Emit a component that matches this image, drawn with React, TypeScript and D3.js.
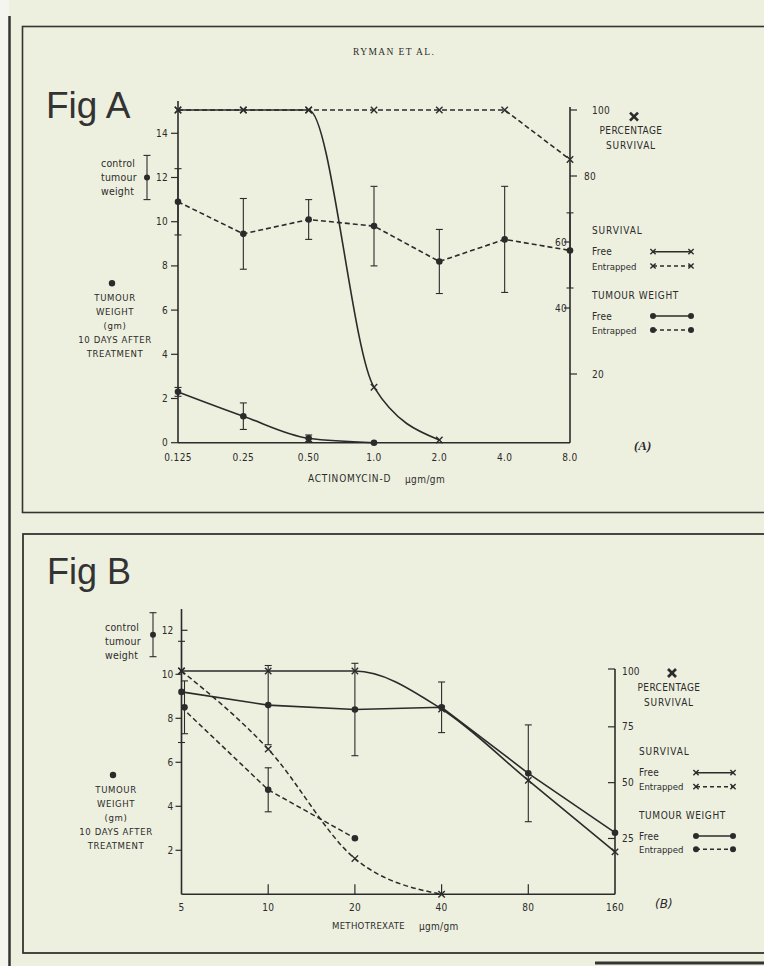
import React from "react";
import * as d3 from "d3";

// ---- Fig A : actinomycin-D (ugm/gm) ----
const doseA = [0.125, 0.25, 0.5, 1, 2, 4, 8];
const doseALabels = ["0.125", "0.25", "0.50", "1.0", "2.0", "4.0", "8.0"];
const survFreeA = [100, 100, 100, 16, 0]; // 0.125 .. 2.0
const survEntrappedA = [100, 100, 100, 100, 100, 100, 85];
const weightFreeA = [2.3, 1.2, 0.2, 0]; // 0.125 .. 1.0
const weightFreeErrA = [0.2, 0.6, 0.15, 0];
const weightEntrappedA = [10.9, 9.45, 10.1, 9.8, 8.2, 9.2, 8.7];
const weightEntrappedErrA = [1.5, 1.6, 0.9, 1.8, 1.45, 2.4, 1.7];
const controlA = { mean: 12, err: 1 };
const weightTicksA = [0, 2, 4, 6, 8, 10, 12, 14];
const survTicksA = [20, 40, 60, 80, 100];

// ---- Fig B : methotrexate (ugm/gm) ----
const doseB = [5, 10, 20, 40, 80, 160];
const doseBLabels = ["5", "10", "20", "40", "80", "160"];
const survFreeB = [100, 100, 100, 83, 51, 19];
const survEntrappedB = [100, 65, 16, 0]; // 5 .. 40
const weightFreeB = [9.2, 8.6, 8.4, 8.5, 5.5, 2.8];
const weightFreeErrB = [2.3, 1.8, 2.1, 1.15, 2.2, 0];
const weightEntrappedB = [8.5, 4.75, 2.55]; // 5 .. 20
const weightEntrappedErrB = [1.2, 1.0, 0];
const controlB = { mean: 11.8, err: 1 };
const weightTicksB = [2, 4, 6, 8, 10, 12];
const survTicksB = [25, 50, 75, 100];

const INK = "#2b2b2b";
const PAPER = "#eef0df";
const FONT = "'DejaVu Sans Condensed', 'DejaVu Sans', sans-serif";
const DASH = "5,3";

type Scale = (v: number) => number;

const path = (xs: number[], ys: number[], xS: Scale, yS: Scale, curve: any = d3.curveLinear) =>
  d3
    .line<number>()
    .x((_, i) => xS(xs[i]))
    .y((d) => yS(d))
    .curve(curve)(ys) ?? "";

const Cross = ({ x, y, r = 3.2, w = 1.4 }: any) => (
  <g stroke={INK} strokeWidth={w}>
    <line x1={x - r} y1={y - r} x2={x + r} y2={y + r} />
    <line x1={x - r} y1={y + r} x2={x + r} y2={y - r} />
  </g>
);

const Dot = ({ x, y, r = 3.3 }: any) => <circle cx={x} cy={y} r={r} fill={INK} />;

const ErrBar = ({ x, y0, y1, cap = 3.5 }: any) => (
  <g stroke={INK} strokeWidth={1.1}>
    <line x1={x} x2={x} y1={y0} y2={y1} />
    <line x1={x - cap} x2={x + cap} y1={y0} y2={y0} />
    <line x1={x - cap} x2={x + cap} y1={y1} y2={y1} />
  </g>
);

const T = ({ x, y, children, anchor = "start", size = 10, ls = 0.6, ...rest }: any) => (
  <text
    x={x}
    y={y}
    fontSize={size}
    letterSpacing={ls}
    textAnchor={anchor}
    dominantBaseline="central"
    fill={INK}
    {...rest}
  >
    {children}
  </text>
);

// legend block on the right of each panel
const Legend = ({ tx, rows, lx0, lx1, pct }: any) => {
  const sample = (y: number, dashed: boolean, dot: boolean) => (
    <g>
      <line
        x1={lx0}
        x2={lx1}
        y1={y}
        y2={y}
        stroke={INK}
        strokeWidth={1.4}
        strokeDasharray={dashed ? "4,3" : undefined}
      />
      {dot ? (
        <>
          <Dot x={lx0} y={y} r={3} />
          <Dot x={lx1} y={y} r={3} />
        </>
      ) : (
        <>
          <Cross x={lx0} y={y} r={2.6} />
          <Cross x={lx1} y={y} r={2.6} />
        </>
      )}
    </g>
  );
  return (
    <g>
      <Cross x={pct.x + 3} y={pct.y0} r={4} w={2.6} />
      <T x={pct.x} y={pct.y1} anchor="middle" ls={0.4}>PERCENTAGE</T>
      <T x={pct.x} y={pct.y2} anchor="middle" ls={0.8}>SURVIVAL</T>
      <T x={tx} y={rows[0]} ls={0.9}>SURVIVAL</T>
      <T x={tx} y={rows[1]} ls={0.3}>Free</T>
      {sample(rows[1], false, false)}
      <T x={tx} y={rows[2]} size={9.5} ls={0}>Entrapped</T>
      {sample(rows[2], true, false)}
      <T x={tx} y={rows[3]} ls={0.6}>TUMOUR WEIGHT</T>
      <T x={tx} y={rows[4]} ls={0.3}>Free</T>
      {sample(rows[4], false, true)}
      <T x={tx} y={rows[5]} size={9.5} ls={0}>Entrapped</T>
      {sample(rows[5], true, true)}
    </g>
  );
};

const SideNotes = ({ cx, cy, ctrl, yS, ex, dot }: any) => (
  <g>
    <T x={cx} y={cy} size={10.5} ls={0.2}>control</T>
    <T x={cx} y={cy + 14} size={10.5} ls={0.2}>tumour</T>
    <T x={cx} y={cy + 28} size={10.5} ls={0.2}>weight</T>
    <ErrBar x={ex} y0={yS(ctrl.mean + ctrl.err)} y1={yS(ctrl.mean - ctrl.err)} />
    <Dot x={ex} y={yS(ctrl.mean)} r={3} />
    <Dot x={dot.x - 3} y={dot.y} r={3.2} />
    <T x={dot.x} y={dot.y + 14} anchor="middle" size={9.5}>TUMOUR</T>
    <T x={dot.x} y={dot.y + 28.5} anchor="middle" size={9.5}>WEIGHT</T>
    <T x={dot.x} y={dot.y + 42.5} anchor="middle" size={9.5}>(gm)</T>
    <T x={dot.x} y={dot.y + 56.5} anchor="middle" size={9.5}>10 DAYS AFTER</T>
    <T x={dot.x} y={dot.y + 70.5} anchor="middle" size={9.5}>TREATMENT</T>
  </g>
);

function FigA() {
  const x = d3.scaleLog().base(2).domain([0.125, 8]).range([178, 570]);
  const yW = d3.scaleLinear().domain([0, 14]).range([442.7, 133.3]);
  const yS = d3.scaleLinear().domain([0, 100]).range([440, 110]);
  const base = yW(0);
  const x0 = x(0.125);
  const x1 = x(8);
  const dFree = doseA.slice(0, survFreeA.length);
  const dWFree = doseA.slice(0, weightFreeA.length);

  return (
    <g>
      <text x={46} y={118} fontFamily="'Liberation Sans', Arial, sans-serif" fontSize={37} fill="#333">
        Fig A
      </text>
      <text
        x={353}
        y={55}
        fontFamily="'Liberation Serif', serif"
        fontSize={9.5}
        letterSpacing={1.4}
        fill={INK}
      >
        RYMAN ET AL.
      </text>

      {/* axes */}
      <g stroke={INK} strokeWidth={1.6}>
        <line x1={x0} x2={x0} y1={base} y2={101} />
        <line x1={x0} x2={x1} y1={base} y2={base} />
        <line x1={x1} x2={x1} y1={base} y2={yS(100) - 3} />
      </g>
      {weightTicksA.map((t) => (
        <g key={t}>
          <line x1={x0 - 7} x2={x0} y1={yW(t)} y2={yW(t)} stroke={INK} strokeWidth={1.2} />
          <T x={x0 - 10} y={yW(t)} anchor="end" ls={0.3}>{t}</T>
        </g>
      ))}
      {survTicksA.map((t) => {
        const left = t === 40 || t === 60;
        return (
          <g key={t}>
            <line
              x1={left ? x1 - 6 : x1}
              x2={left ? x1 : x1 + 7}
              y1={yS(t)}
              y2={yS(t)}
              stroke={INK}
              strokeWidth={1.2}
            />
            <T x={left ? x1 - 3 : t === 80 ? x1 + 14 : x1 + 22} y={yS(t)} anchor={left ? "end" : "start"} ls={0.3}>
              {t}
            </T>
          </g>
        );
      })}
      {doseA.map((d, i) => (
        <T key={d} x={x(d)} y={457} anchor="middle" ls={0.4}>
          {doseALabels[i]}
        </T>
      ))}
      <T x={308} y={478} ls={0.8}>ACTINOMYCIN-D</T>
      <T x={405} y={479} ls={0.4}>μgm/gm</T>
      <text x={634} y={450} fontFamily="'Liberation Serif', serif" fontStyle="italic" fontWeight="bold" fontSize={13} fill={INK}>
        (A)
      </text>

      {/* survival */}
      <path d={path(dFree, survFreeA, x, yS, d3.curveMonotoneX)} fill="none" stroke={INK} strokeWidth={1.6} />
      <path d={path(doseA, survEntrappedA, x, yS)} fill="none" stroke={INK} strokeWidth={1.6} strokeDasharray={DASH} />
      {dFree.map((d, i) => (
        <Cross key={"sf" + d} x={x(d)} y={yS(survFreeA[i])} />
      ))}
      {doseA.map((d, i) => (
        <Cross key={"se" + d} x={x(d)} y={yS(survEntrappedA[i])} />
      ))}

      {/* tumour weight */}
      <path d={path(dWFree, weightFreeA, x, yW, d3.curveMonotoneX)} fill="none" stroke={INK} strokeWidth={1.6} />
      <path d={path(doseA, weightEntrappedA, x, yW)} fill="none" stroke={INK} strokeWidth={1.6} strokeDasharray={DASH} />
      {dWFree.map((d, i) => (
        <g key={"wf" + d}>
          {weightFreeErrA[i] > 0 && (
            <ErrBar x={x(d)} y0={yW(weightFreeA[i] + weightFreeErrA[i])} y1={yW(weightFreeA[i] - weightFreeErrA[i])} />
          )}
          <Dot x={x(d)} y={yW(weightFreeA[i])} />
        </g>
      ))}
      {doseA.map((d, i) => (
        <g key={"we" + d}>
          <ErrBar
            x={x(d)}
            y0={yW(weightEntrappedA[i] + weightEntrappedErrA[i])}
            y1={yW(weightEntrappedA[i] - weightEntrappedErrA[i])}
          />
          <Dot x={x(d)} y={yW(weightEntrappedA[i])} />
        </g>
      ))}

      <SideNotes cx={101} cy={162.7} ctrl={controlA} yS={yW} ex={147} dot={{ x: 115, y: 283.3 }} />
      <Legend
        tx={592}
        rows={[230.7, 251.7, 266, 295, 316, 330]}
        lx0={653}
        lx1={691}
        pct={{ x: 631, y0: 116.7, y1: 130, y2: 145 }}
      />
    </g>
  );
}

function FigB() {
  const x = d3.scaleLog().base(2).domain([5, 160]).range([181.5, 615]);
  const yW = d3.scaleLinear().domain([0, 12]).range([894.3, 630.3]);
  const yS = d3.scaleLinear().domain([0, 100]).range([894.3, 671]);
  const base = yW(0);
  const x0 = x(5);
  const x1 = x(160);
  const dSE = doseB.slice(0, survEntrappedB.length);
  const dWE = doseB.slice(0, weightEntrappedB.length);

  return (
    <g>
      <text x={47} y={584} fontFamily="'Liberation Sans', Arial, sans-serif" fontSize={36} fill="#333">
        Fig B
      </text>

      <g stroke={INK} strokeWidth={1.6}>
        <line x1={x0} x2={x0} y1={base} y2={609} />
        <line x1={x0} x2={x1} y1={base} y2={base} />
        <line x1={x1} x2={x1} y1={base} y2={yS(100) - 2} />
      </g>
      {weightTicksB.map((t) => (
        <g key={t}>
          <line
            x1={t === 12 ? x0 : x0 - 6}
            x2={t === 12 ? x0 + 6 : x0}
            y1={yW(t)}
            y2={yW(t)}
            stroke={INK}
            strokeWidth={1.2}
          />
          <T x={x0 - 8} y={yW(t)} anchor="end" ls={0.2}>{t}</T>
        </g>
      ))}
      {survTicksB.map((t) => (
        <g key={t}>
          <line x1={x1 - 7} x2={x1} y1={yS(t) - (t === 100 ? 2 : 0)} y2={yS(t) - (t === 100 ? 2 : 0)} stroke={INK} strokeWidth={1.2} />
          <T x={x1 + 7} y={yS(t)} ls={0.2}>{t}</T>
        </g>
      ))}
      {doseB.map((d, i) => (
        <g key={d}>
          {i > 0 && i < doseB.length - 1 && (
            <line x1={x(d)} x2={x(d)} y1={base} y2={base - 10} stroke={INK} strokeWidth={1.2} />
          )}
          <T x={x(d)} y={907} anchor="middle" ls={0.3}>
            {doseBLabels[i]}
          </T>
        </g>
      ))}
      <T x={332} y={925} size={9.5} ls={0.3}>METHOTREXATE</T>
      <T x={419} y={926} ls={0.3}>μgm/gm</T>
      <text x={655} y={908} fontFamily="'DejaVu Sans', sans-serif" fontStyle="italic" fontSize={12} fill={INK}>
        (B)
      </text>

      {/* survival */}
      <path d={path(doseB, survFreeB, x, yS, d3.curveMonotoneX)} fill="none" stroke={INK} strokeWidth={1.6} />
      <path d={path(dSE, survEntrappedB, x, yS, d3.curveMonotoneX)} fill="none" stroke={INK} strokeWidth={1.5} strokeDasharray={DASH} />
      {doseB.map((d, i) => (
        <Cross key={"sf" + d} x={x(d)} y={yS(survFreeB[i])} />
      ))}
      {dSE.map((d, i) => (
        <Cross key={"se" + d} x={x(d)} y={yS(survEntrappedB[i])} />
      ))}

      {/* tumour weight */}
      <path d={path(doseB, weightFreeB, x, yW)} fill="none" stroke={INK} strokeWidth={1.6} />
      <path d={path(dWE, weightEntrappedB, x, yW)} fill="none" stroke={INK} strokeWidth={1.5} strokeDasharray={DASH} />
      {doseB.map((d, i) => (
        <g key={"wf" + d}>
          {weightFreeErrB[i] > 0 && (
            <ErrBar x={x(d)} y0={yW(weightFreeB[i] + weightFreeErrB[i])} y1={yW(weightFreeB[i] - weightFreeErrB[i])} />
          )}
          <Dot x={x(d)} y={yW(weightFreeB[i])} />
        </g>
      ))}
      {dWE.map((d, i) => (
        <g key={"we" + d}>
          {weightEntrappedErrB[i] > 0 && (
            <ErrBar
              x={x(d) + (i === 0 ? 3 : 0)}
              y0={yW(weightEntrappedB[i] + weightEntrappedErrB[i])}
              y1={yW(weightEntrappedB[i] - weightEntrappedErrB[i])}
            />
          )}
          <Dot x={x(d) + (i === 0 ? 3 : 0)} y={yW(weightEntrappedB[i])} />
        </g>
      ))}

      <SideNotes cx={105} cy={626.7} ctrl={controlB} yS={yW} ex={153} dot={{ x: 116, y: 775 }} />
      <Legend
        tx={639}
        rows={[751.7, 772.7, 786.7, 815, 836, 849.3]}
        lx0={696}
        lx1={733}
        pct={{ x: 669, y0: 673, y1: 687, y2: 702 }}
      />
    </g>
  );
}

export default function App() {
  return (
    <svg
      width={764}
      height={966}
      style={{ position: "absolute", left: 0, top: 0, background: PAPER }}
      fontFamily={FONT}
    >
      <rect x={0} y={0} width={764} height={966} fill={PAPER} />
      <rect x={0} y={0} width={9} height={966} fill="#f5f5ef" />
      {/* page frames */}
      <line x1={9.5} x2={9.5} y1={16} y2={966} stroke="#333" strokeWidth={2.5} />
      <rect x={22.5} y={26.5} width={760} height={486} fill="none" stroke="#333" strokeWidth={1.6} />
      <rect x={23} y={534} width={760} height={419} fill="none" stroke="#333" strokeWidth={1.8} />
      <line x1={595} x2={764} y1={963} y2={963} stroke="#333" strokeWidth={3} />
      <FigA />
      <FigB />
    </svg>
  );
}
